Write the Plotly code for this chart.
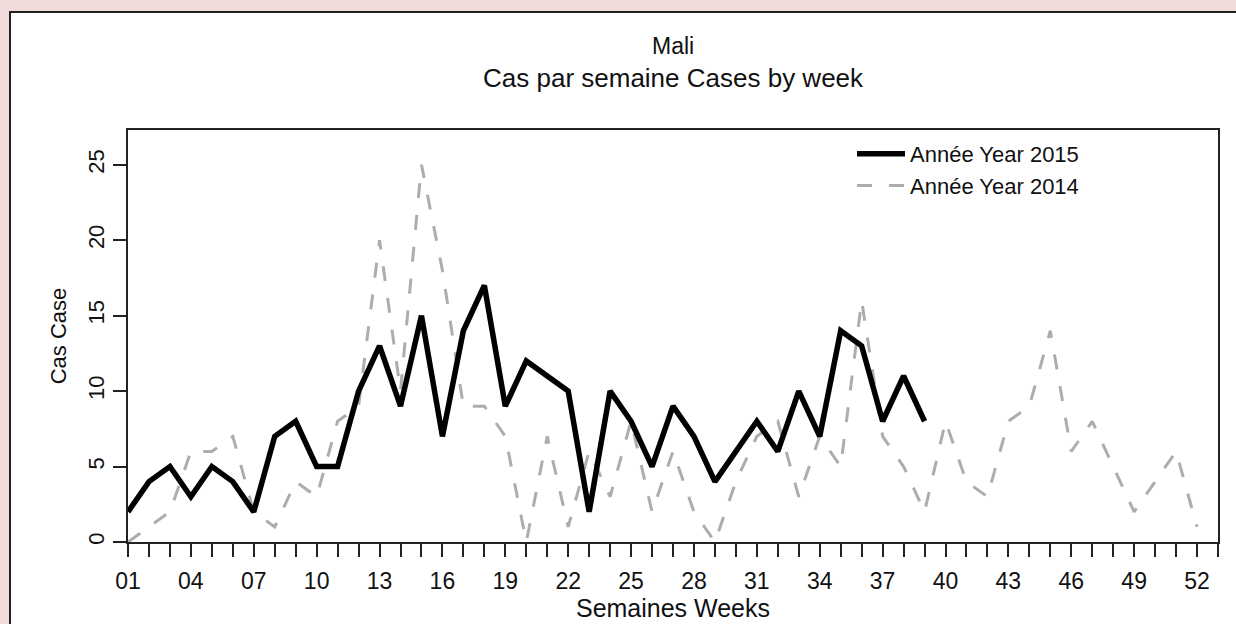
import plotly.graph_objects as go

# semaines / weeks
weeks_2015 = list(range(1, 40))
weeks_2014 = list(range(1, 53))

# cas par semaine
cases_2015 = [2, 4, 5, 3, 5, 4, 2, 7, 8, 5, 5, 10, 13, 9, 15, 7, 14, 17, 9, 12,
              11, 10, 2, 10, 8, 5, 9, 7, 4, 6, 8, 6, 10, 7, 14, 13, 8, 11, 8]
cases_2014 = [0, 1, 2, 6, 6, 7, 2, 1, 4, 3, 8, 9, 20, 10, 25, 18, 9, 9, 7, 0,
              7, 1, 6, 3, 8, 2, 6, 2, 0, 4, 7, 8, 3, 7, 5, 16, 7, 5, 2, 8,
              4, 3, 8, 9, 14, 6, 8, 5, 2, 4, 6, 1]

tick_vals = list(range(1, 54))
tick_text = [f"{w:02d}" if (w - 1) % 3 == 0 and w <= 52 else "" for w in tick_vals]
y_ticks = [0, 5, 10, 15, 20, 25]

FONT = "Liberation Sans, Arial, sans-serif"

fig = go.Figure()

fig.add_trace(
    go.Scatter(
        name="Année Year 2014",
        x=weeks_2014,
        y=cases_2014,
        mode="lines",
        line=dict(color="#adadad", width=3, dash="15px,17px"),
        legendrank=2,
    )
)

fig.add_trace(
    go.Scatter(
        name="Année Year 2015",
        x=weeks_2015,
        y=cases_2015,
        mode="lines",
        line=dict(color="black", width=5.5),
        legendrank=1,
    )
)

# cadre blanc / white panel with border
L, R, T, B = 128, 18, 130, 82
pw = 1236 - L - R
ph = 624 - T - B
fig.add_shape(
    type="rect", xref="paper", yref="paper", layer="below",
    x0=(10 - L) / pw, x1=(1250 - L) / pw,
    y0=(624 - B - 640) / ph, y1=(624 - B - 12) / ph,
    line=dict(color="#222222", width=2), fillcolor="white",
)

fig.add_annotation(text="Mali", xref="paper", yref="paper", x=0.5,
                   y=(624 - B - 46) / ph, yanchor="middle", showarrow=False,
                   font=dict(size=23, color="#111111"))
fig.add_annotation(text="Cas par semaine Cases by week", xref="paper", yref="paper",
                   x=0.5, y=(624 - B - 78) / ph, yanchor="middle", showarrow=False,
                   font=dict(size=26, color="#111111"))

fig.update_xaxes(
    range=[1, 53], automargin=False,
    tickmode="array", tickvals=tick_vals, ticktext=tick_text,
    ticks="outside", ticklen=13, tickwidth=2, tickcolor="#222222",
    showline=True, linecolor="#222222", linewidth=2, mirror=True,
    showgrid=False, zeroline=False,
    tickfont=dict(size=23), ticklabelstandoff=4,
    title=dict(text="Semaines Weeks", font=dict(size=25), standoff=4),
)
fig.update_yaxes(
    range=[0, 27.3], automargin=False,
    tickmode="array", tickvals=y_ticks,
    tickangle=-90,
    ticks="outside", ticklen=13, tickwidth=2, tickcolor="#222222",
    showline=True, linecolor="#222222", linewidth=2, mirror=True,
    showgrid=False, zeroline=False,
    tickfont=dict(size=22),
    title=dict(text="Cas Case", font=dict(size=22), standoff=12),
)

fig.update_layout(
    width=1236, height=624,
    margin=dict(l=L, r=R, t=T, b=B),
    paper_bgcolor="#f2dcdb",
    plot_bgcolor="white",
    font=dict(family=FONT, color="#111111"),
    showlegend=True,
    legend=dict(x=(852 - L) / pw, y=(624 - B - 133) / ph, xanchor="left", yanchor="top",
                bgcolor="rgba(0,0,0,0)", font=dict(size=22), itemwidth=48,
                tracegroupgap=0),
)

# pas de marge autour de la page, pas de barre d'outils
fig.write_html("out.html", config={"displayModeBar": False},
               post_script="document.body.style.margin='0';")
